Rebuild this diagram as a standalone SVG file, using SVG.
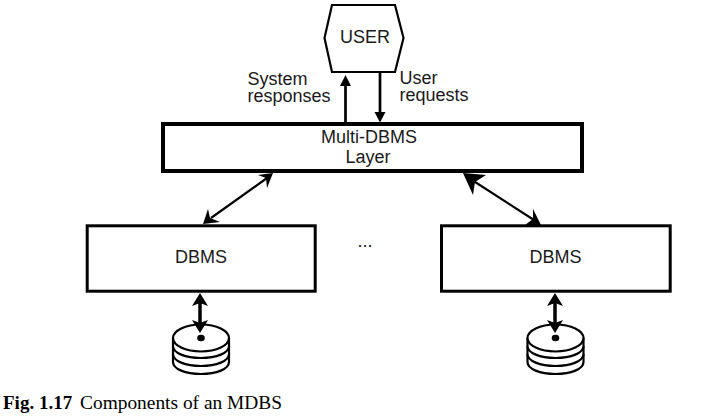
<svg xmlns="http://www.w3.org/2000/svg" width="704" height="419" viewBox="0 0 704 419">
<defs>
<style>
text{font-family:"Liberation Sans",Arial,sans-serif;font-size:18px;fill:#1a1a1a;text-anchor:middle}
.box{fill:#fff;stroke:#000;stroke-width:3}
.line{fill:none;stroke:#000}
.disk{fill:#fff;stroke:#000;stroke-width:2.200}
.cap{font-family:"Liberation Serif",serif;font-size:19px;text-anchor:start;fill:#000}
</style>
<g id="stack">
<path class="disk" d="M-28 30v8c0 7 12.500 12 28 12s28-5 28-12v-8"/>
<path class="disk" d="M-28 22v8c0 7 12.500 12 28 12s28-5 28-12v-8"/>
<path class="disk" d="M-28 14v8c0 7 12.500 12 28 12s28-5 28-12v-8"/>
<ellipse class="disk" cx="0" cy="14" rx="28" ry="13.500"/>
<ellipse cx="0" cy="14" rx="3.800" ry="3.300" fill="#000"/>
</g>
</defs>
<rect width="704" height="419" fill="#fff"/>
<g id="user">
<path d="M332 5H395L403.500 38L395 72H332L324.500 38Z" fill="#fff" stroke="#000" stroke-width="2.200"/>
<text x="365" y="43">USER</text>
</g>
<g id="multi-dbms">
<rect x="163" y="124" width="419" height="47" fill="#fff" stroke="#000" stroke-width="4"/>
<text x="369" y="143">Multi-DBMS</text>
<text x="368" y="163">Layer</text>
</g>
<g id="dbms-left">
<rect class="box" x="87.200" y="225.800" width="228" height="65.400"/>
<text x="201" y="263">DBMS</text>
</g>
<g id="dbms-right">
<rect class="box" x="441.500" y="225.800" width="228.700" height="65.400"/>
<text x="555.500" y="263">DBMS</text>
</g>
<g id="disk-left"><use href="#stack" x="201" y="324"/></g>
<g id="disk-right"><use href="#stack" x="555.500" y="324"/></g>
<g id="connectors">
<path class="line" stroke-width="2.700" d="M345.500 122V84"/>
<path d="M345.500 75L351 86H340Z"/>
<path class="line" stroke-width="2.700" d="M380 72V114"/>
<path d="M380 122.500L374.500 112H385.500Z"/>
<path class="line" stroke-width="2.200" d="M211 218L267 178"/>
<path d="M273 173L258 175L266 178L267 188Z"/>
<path d="M203 224L220 222L210 218L208 209Z"/>
<path class="line" stroke-width="2.200" d="M472 180L534 220"/>
<path d="M463 173L486 175L475 182L473 195Z"/>
<path d="M541 225H525L533 219L533 209Z"/>
<path class="line" stroke-width="3.500" d="M200 300V325"/>
<path d="M200 293L208 306L200 303L192 306Z"/>
<path d="M200 333L192 320L200 323L208 320Z"/>
<path class="line" stroke-width="3.500" d="M555 300V325"/>
<path d="M555 293L563 306L555 303L547 306Z"/>
<path d="M555 333L547 320L555 323L563 320Z"/>
</g>
<g id="labels">
<text x="277.500" y="85">System</text>
<text x="289" y="102">responses</text>
<text x="418.500" y="84">User</text>
<text x="434" y="101">requests</text>
<text x="365" y="247">...</text>
<text class="cap" x="3" y="409" font-weight="700">Fig. 1.17</text>
<text class="cap" x="80" y="409" style="font-size:19.400px">Components of an MDBS</text>
</g>
</svg>
